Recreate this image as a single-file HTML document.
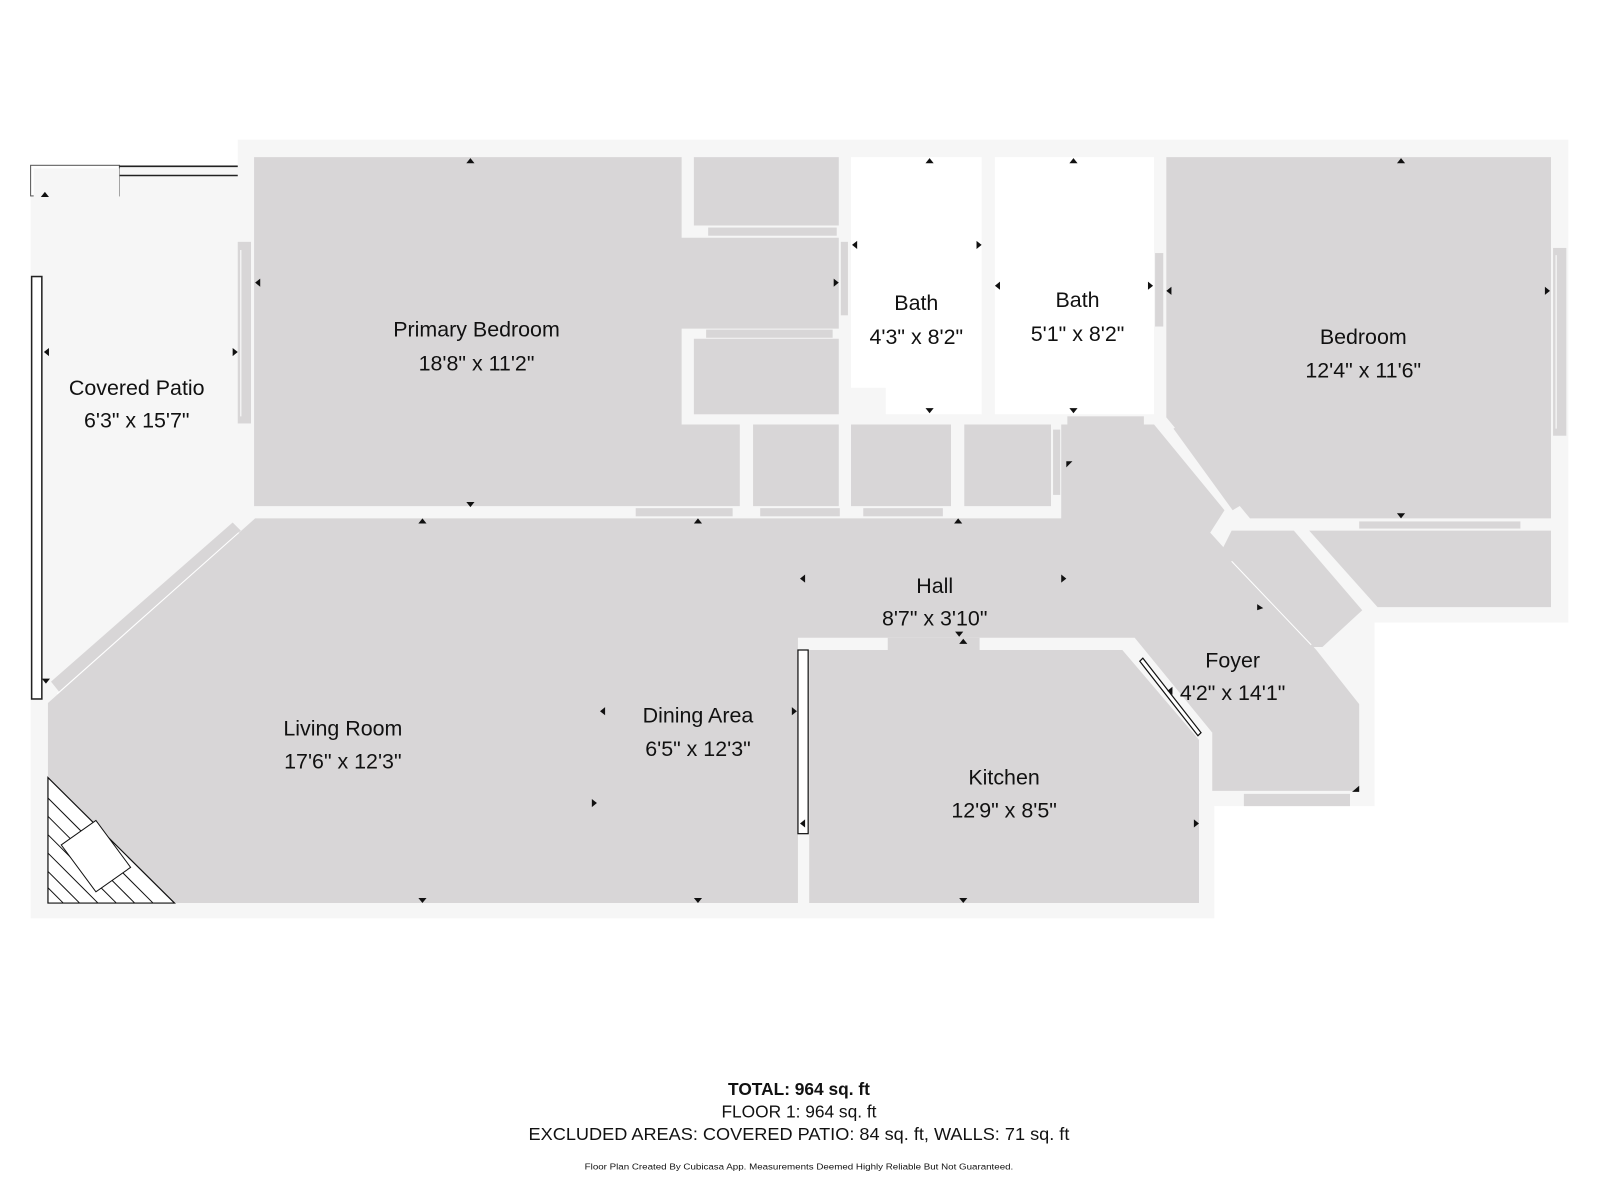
<!DOCTYPE html>
<html><head><meta charset="utf-8"><style>
html,body{margin:0;padding:0;background:#fff;width:1600px;height:1200px;overflow:hidden}
svg{display:block}
text{font-family:"Liberation Sans",sans-serif;fill:#111}
</style></head><body>
<svg width="1600" height="1200" viewBox="0 0 1568 1176" preserveAspectRatio="none" xmlns="http://www.w3.org/2000/svg">
<!-- building wall background -->
<polygon points="233,137 1537,137 1537,610 1347,610 1347,790 1190,790 1190,900 30,900 30,162 233,162" fill="#f6f6f6"/>
<!-- patio top detail -->
<rect x="30" y="162" width="87" height="30" fill="#fff" stroke="#555" stroke-width="1"/>
<rect x="33" y="165" width="84" height="40" fill="#f6f6f6"/>
<line x1="117" y1="163" x2="233" y2="163" stroke="#222" stroke-width="1.5"/>
<line x1="117" y1="172" x2="233" y2="172" stroke="#222" stroke-width="1.5"/>
<rect x="31" y="271" width="10" height="414" fill="#fff" stroke="#222" stroke-width="1.5"/>

<!-- Primary bedroom -->
<polygon points="249,154 668,154 668,233 822,233 822,322 668,322 668,416 725,416 725,496 249,496" fill="#d8d6d7"/>
<rect x="680" y="154" width="142" height="67" fill="#d8d6d7"/>
<rect x="680" y="332" width="142" height="74" fill="#d8d6d7"/>
<rect x="694" y="223" width="126" height="8" fill="#d8d6d7"/>
<rect x="692" y="323" width="124" height="8" fill="#d8d6d7"/>
<!-- small closets -->
<rect x="738" y="416" width="84" height="80" fill="#d8d6d7"/>
<rect x="834" y="416" width="98" height="80" fill="#d8d6d7"/>
<rect x="945" y="416" width="85" height="80" fill="#d8d6d7"/>
<rect x="623" y="498" width="95" height="8" fill="#d8d6d7"/>
<rect x="745" y="498" width="78" height="8" fill="#d8d6d7"/>
<rect x="846" y="498" width="78" height="8" fill="#d8d6d7"/>
<rect x="1032" y="421" width="7" height="64" fill="#d8d6d7"/>
<!-- baths -->
<polygon points="834,154 962,154 962,406 868,406 868,380 834,380" fill="#fff"/>
<rect x="975" y="154" width="156" height="252" fill="#fff"/>
<rect x="1046" y="408" width="75" height="8" fill="#d8d6d7"/>
<rect x="824" y="237" width="7" height="72" fill="#d8d6d7"/>
<rect x="1132" y="248" width="8" height="72" fill="#d8d6d7"/>
<!-- bedroom -->
<polygon points="1143,154 1520,154 1520,508 1225,508 1143,409" fill="#d8d6d7"/>
<rect x="1332" y="511" width="158" height="7" fill="#d8d6d7"/>
<rect x="1522" y="243" width="13" height="184" fill="#d8d6d7"/>
<line x1="1525" y1="250" x2="1525" y2="420" stroke="#fff" stroke-width="1"/>
<rect x="233" y="237" width="13" height="178" fill="#d8d6d7"/>
<line x1="236" y1="245" x2="236" y2="408" stroke="#fff" stroke-width="1"/>
<!-- bedroom closet -->
<polygon points="1283,520 1520,520 1520,595 1350,595" fill="#d8d6d7"/>
<!-- foyer closet -->
<polygon points="1207,520 1268,520 1335,598 1296,634 1280,634 1196,542" fill="#d8d6d7"/>
<!-- diagonal window near bedroom -->
<polygon points="1150,420 1160,414 1218,494 1208,500" fill="#d8d6d7"/>
<!-- living/hall/foyer -->
<polygon points="47,689 250,508 1040,508 1040,416 1131,416 1200,500 1186,522 1290,637 1332,690 1332,775 1188,775 1188,730 1100,625 782,625 782,885 47,885" fill="#d8d6d7"/>
<line x1="1207" y1="550" x2="1285" y2="632" stroke="#fff" stroke-width="1"/>
<rect x="1219" y="778" width="104" height="12" fill="#d8d6d7"/>
<!-- living diagonal window -->
<polygon points="50,668 228,512 236,520 58,678" fill="#d8d6d7"/>
<line x1="56" y1="680" x2="234" y2="522" stroke="#fff" stroke-width="1"/>
<!-- kitchen -->
<polygon points="793,637 870,637 870,625 960,625 960,637 1100,637 1175,725 1175,885 793,885" fill="#d8d6d7"/>
<polygon points="1100,625 1112,625 1188,718 1188,730 1175,725 1100,637" fill="#f6f6f6"/>
<polygon points="1117,648 1120,645 1177,718 1174,721" fill="#fff" stroke="#111" stroke-width="1.2"/>
<rect x="782" y="637" width="10" height="180" fill="#fff" stroke="#111" stroke-width="1.2"/>
<!-- fireplace -->
<polygon points="47,762 47,885 171,885" fill="#fff" stroke="#111" stroke-width="1.2"/>
<g stroke="#111" stroke-width="1">
<line x1="47" y1="782" x2="150" y2="885"/>
<line x1="47" y1="800" x2="132" y2="885"/>
<line x1="47" y1="818" x2="114" y2="885"/>
<line x1="47" y1="836" x2="96" y2="885"/>
<line x1="47" y1="854" x2="78" y2="885"/>
<line x1="47" y1="870" x2="62" y2="885"/>
</g>
<polygon points="60,828 94,804 128,850 94,874" fill="#fff" stroke="#111" stroke-width="1"/>
<!-- dimension arrows -->
<g fill="#111">
<polygon points="461,155 457,160 465,160"/><polygon points="461,497 457,492 465,492"/>
<polygon points="250,277 255,273 255,281"/>
<polygon points="911,155 907,160 915,160"/><polygon points="911,405 907,400 915,400"/>
<polygon points="1052,155 1048,160 1056,160"/><polygon points="1052,405 1048,400 1056,400"/>
<polygon points="1373,155 1369,160 1377,160"/><polygon points="1373,508 1369,503 1377,503"/>
<polygon points="835,240 840,236 840,244"/><polygon points="962,240 957,236 957,244"/>
<polygon points="975,280 980,276 980,284"/><polygon points="1130,280 1125,276 1125,284"/>
<polygon points="1143,285 1148,281 1148,289"/><polygon points="1519,285 1514,281 1514,289"/>
<polygon points="822,277 817,273 817,281"/>
<polygon points="43,345 48,341 48,349"/><polygon points="233,345 228,341 228,349"/>
<polygon points="44,188 40,193 48,193"/><polygon points="45,670 41,665 49,665"/>
<polygon points="414,508 410,513 418,513"/><polygon points="684,508 680,513 688,513"/><polygon points="939,508 935,513 943,513"/>
<polygon points="414,885 410,880 418,880"/><polygon points="684,885 680,880 688,880"/><polygon points="944,885 940,880 948,880"/>
<polygon points="784,567 789,563 789,571"/><polygon points="1045,567 1040,563 1040,571"/>
<polygon points="588,697 593,693 593,701"/><polygon points="781,697 776,693 776,701"/>
<polygon points="585,787 580,783 580,791"/><polygon points="784,807 789,803 789,811"/>
<polygon points="1175,807 1170,803 1170,811"/>
<polygon points="940,624 936,619 944,619"/><polygon points="944,626 940,631 948,631"/>
<polygon points="1045,452 1051,452 1045,458"/>
<polygon points="1238,596 1232,592 1232,598"/>
<polygon points="1332,770 1325,776 1332,776"/>
<polygon points="1144,677 1149,673 1149,681"/>
</g>
<!-- labels -->
<g font-size="21" text-anchor="middle">
<text x="467" y="330">Primary Bedroom</text><text x="467" y="363">18'8" x 11'2"</text>
<text x="134" y="387">Covered Patio</text><text x="134" y="419">6'3" x 15'7"</text>
<text x="898" y="304">Bath</text><text x="898" y="337">4'3" x 8'2"</text>
<text x="1056" y="301">Bath</text><text x="1056" y="334">5'1" x 8'2"</text>
<text x="1336" y="337">Bedroom</text><text x="1336" y="370">12'4" x 11'6"</text>
<text x="916" y="581">Hall</text><text x="916" y="613">8'7" x 3'10"</text>
<text x="1208" y="654">Foyer</text><text x="1208" y="686">4'2" x 14'1"</text>
<text x="336" y="721">Living Room</text><text x="336" y="753">17'6" x 12'3"</text>
<text x="684" y="708">Dining Area</text><text x="684" y="741">6'5" x 12'3"</text>
<text x="984" y="769">Kitchen</text><text x="984" y="801">12'9" x 8'5"</text>
</g>
<g text-anchor="middle">
<text x="783" y="1073" font-size="17" font-weight="bold">TOTAL: 964 sq. ft</text>
<text x="783" y="1095" font-size="17">FLOOR 1: 964 sq. ft</text>
<text x="783" y="1117" font-size="17" textLength="530" lengthAdjust="spacingAndGlyphs">EXCLUDED AREAS: COVERED PATIO: 84 sq. ft, WALLS: 71 sq. ft</text>
<text x="783" y="1146" font-size="8.5" textLength="420" lengthAdjust="spacingAndGlyphs">Floor Plan Created By Cubicasa App. Measurements Deemed Highly Reliable But Not Guaranteed.</text>
</g>
</svg>
</body></html>
